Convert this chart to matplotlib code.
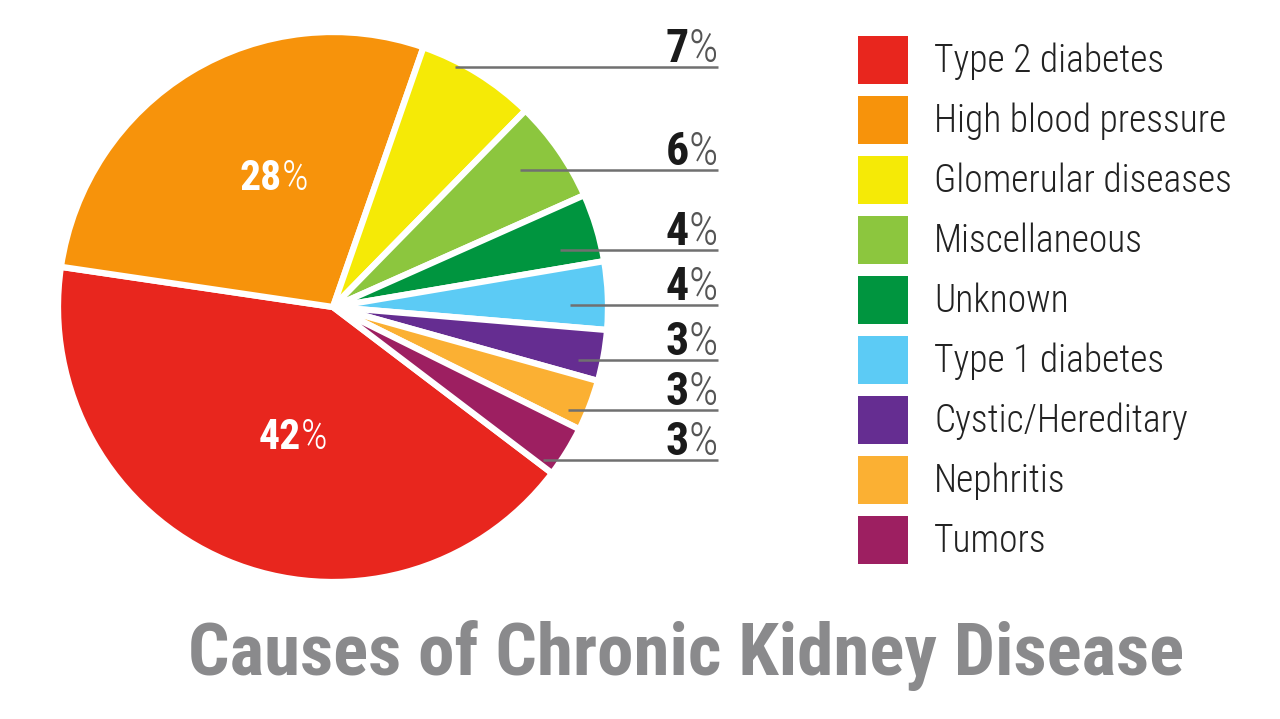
import matplotlib
matplotlib.use("Agg")
import matplotlib.pyplot as plt
from matplotlib import font_manager
from matplotlib.patches import Patch
import numpy as np

# data
causes = ["Type 2 diabetes", "High blood pressure", "Glomerular diseases",
          "Miscellaneous", "Unknown", "Type 1 diabetes", "Cystic/Hereditary",
          "Nephritis", "Tumors"]
shares = [42, 28, 7, 6, 4, 4, 3, 3, 3]
colors = ["#e8261e", "#f7930b", "#f5ea06", "#8cc63e", "#00953f",
          "#5ccbf5", "#652d91", "#fbb033", "#9d1f61"]
title = "Causes of Chronic Kidney Disease"


def pick_font(names):
    for n in names:
        try:
            font_manager.findfont(font_manager.FontProperties(family=n),
                                  fallback_to_default=False)
            return n
        except ValueError:
            pass
    return "DejaVu Sans"


narrow = pick_font(["Roboto Condensed", "Liberation Sans Narrow",
                    "DejaVu Sans Condensed", "Liberation Sans"])

W, H = 1280, 719
fig = plt.figure(figsize=(W / 100, H / 100), dpi=100)
ax = fig.add_axes([0, 0, 1, 1])


def Y(y_img):
    return H - y_img


cx, cy, R = 333, Y(307), 275
wedges, _ = ax.pie(shares, colors=colors, startangle=322.8, counterclock=False,
                   center=(cx, cy), radius=R,
                   wedgeprops=dict(edgecolor="white", linewidth=4.5,
                                   joinstyle="round"))
ax.set_xlim(0, W)
ax.set_ylim(0, H)
ax.set_aspect("equal")
ax.axis("off")


def two_part(x, y, num, num_color, pct_color, size, side="right"):
    # bold number followed by a thin "%" sign
    pct = ax.text(x, y, "%", fontsize=size, color=pct_color,
                  family=narrow, fontweight="light", ha=side, va="baseline")
    ax.annotate(num, xy=(0, y), xycoords=(pct, "data"), fontsize=size,
                color=num_color, family=narrow, fontweight="bold",
                ha="right", va="baseline")
    return pct


# inner labels for the two big slices
for w, s in list(zip(wedges, shares))[:2]:
    mid = np.deg2rad((w.theta1 + w.theta2) / 2)
    lx = cx + 0.53 * R * np.cos(mid) + 24
    ly = cy + 0.53 * R * np.sin(mid) - 8
    two_part(lx, ly, str(s), "white", "white", 30, side="left")

# leader lines and outer labels for the small slices
rows = [67, 170, 250, 305, 360, 410, 460]
starts = [455, 520, 560, 570, 578, 568, 543]
x_end = 718
for s, r, x0 in zip(shares[2:], rows, starts):
    ax.plot([x0, x_end], [Y(r), Y(r)], color="#707070", lw=1.8,
            solid_capstyle="butt")
    two_part(x_end, Y(r) + 5, str(s), "#1a1a1a", "#555555", 33)

fs_leg = 27
px = fs_leg * 100 / 72
handles = [Patch(facecolor=c, edgecolor="none") for c in colors]
leg = fig.legend(handles, causes, loc="upper left",
                 bbox_to_anchor=(858 / W, 1 - 36 / H), frameon=False,
                 prop=dict(family=narrow, size=fs_leg, weight="light"),
                 handlelength=50 / px, handleheight=(48 / px - 0.245) / 0.65,
                 handletextpad=0.7, labelspacing=12 / px,
                 borderaxespad=0, borderpad=0)
for t in leg.get_texts():
    t.set_color("#222222")

t = fig.text(188 / W, 1 - 675 / H, title, fontsize=50, color="#8a8a8c",
             family=narrow, fontweight="bold", ha="left", va="baseline")
fig.canvas.draw()
bb = t.get_window_extent()
t.set_fontsize(50 * 997 / bb.width)

fig.savefig("out.png", dpi=100)
